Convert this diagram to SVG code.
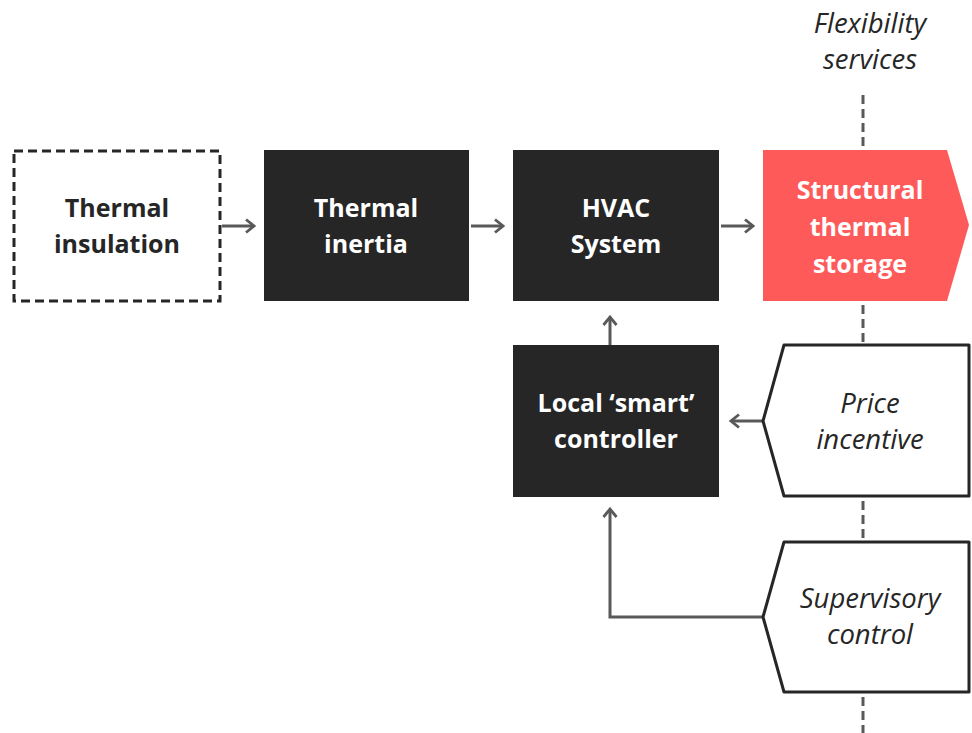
<svg xmlns="http://www.w3.org/2000/svg" width="972" height="733" viewBox="0 0 972 733">
<style>
.t{font-family:"Open Sans","Noto Sans",sans-serif;font-size:25px;text-anchor:middle}
.b{font-weight:bold}
.w{fill:#ffffff}
.d{fill:#262626}
.i{font-style:italic;fill:#262626;font-size:27.5px}
.dark{fill:#262626}
.conn{fill:none;stroke:#595959;stroke-width:3}
</style>
<defs>
<marker id="ah" viewBox="0 0 14 16" refX="12" refY="8" markerWidth="14" markerHeight="16" markerUnits="userSpaceOnUse" orient="auto">
<path d="M4,1.5 L12,8 L4,14.5" fill="none" stroke="#595959" stroke-width="2.8"/>
</marker>
</defs>
<rect width="972" height="733" fill="#ffffff"/>
<g id="flex-label">
<text class="t i" x="870" y="33">Flexibility</text>
<text class="t i" x="870" y="69">services</text>
</g>
<g id="divider">
<line x1="863" y1="95" x2="863" y2="733" stroke="#595959" stroke-width="3" stroke-dasharray="9,5"/>
</g>
<g id="connectors">
<line class="conn" x1="222" y1="226" x2="254" y2="226" marker-end="url(#ah)"/>
<line class="conn" x1="471" y1="226" x2="503" y2="226" marker-end="url(#ah)"/>
<line class="conn" x1="721" y1="226" x2="753" y2="226" marker-end="url(#ah)"/>
<line class="conn" x1="610" y1="345" x2="610" y2="317" marker-end="url(#ah)"/>
<line class="conn" x1="763" y1="421" x2="731" y2="421" marker-end="url(#ah)"/>
<path class="conn" d="M763,617 H610 V509" marker-end="url(#ah)"/>
</g>
<g id="thermal-insulation">
<rect x="14" y="151" width="206" height="150" fill="#ffffff" stroke="#262626" stroke-width="3" stroke-dasharray="9,5"/>
<text class="t b d" x="117" y="217">Thermal</text>
<text class="t b d" x="117" y="253">insulation</text>
</g>
<g id="thermal-inertia">
<rect x="264" y="150" width="205" height="151" class="dark"/>
<text class="t b w" x="366" y="217">Thermal</text>
<text class="t b w" x="366" y="253">inertia</text>
</g>
<g id="hvac">
<rect x="513" y="150" width="206" height="151" class="dark"/>
<text class="t b w" x="616" y="217">HVAC</text>
<text class="t b w" x="616" y="253">System</text>
</g>
<g id="storage">
<polygon points="763,150 947,150 969,225 947,301 763,301" fill="#ff5a5a"/>
<text class="t b w" x="860" y="199">Structural</text>
<text class="t b w" x="860" y="236">thermal</text>
<text class="t b w" x="860" y="273">storage</text>
</g>
<g id="controller">
<rect x="513" y="345" width="206" height="152" class="dark"/>
<text class="t b w" x="616" y="412">Local ‘smart’</text>
<text class="t b w" x="616" y="448">controller</text>
</g>
<g id="price">
<polygon points="784,345 969,345 969,496 784,496 763,421" fill="#ffffff" stroke="#262626" stroke-width="3" stroke-linejoin="round"/>
<text class="t i" x="870" y="413">Price</text>
<text class="t i" x="870" y="449">incentive</text>
</g>
<g id="supervisory">
<polygon points="784,542 969,542 969,692 784,692 763,617" fill="#ffffff" stroke="#262626" stroke-width="3" stroke-linejoin="round"/>
<text class="t i" x="870" y="608">Supervisory</text>
<text class="t i" x="870" y="644">control</text>
</g>
</svg>
